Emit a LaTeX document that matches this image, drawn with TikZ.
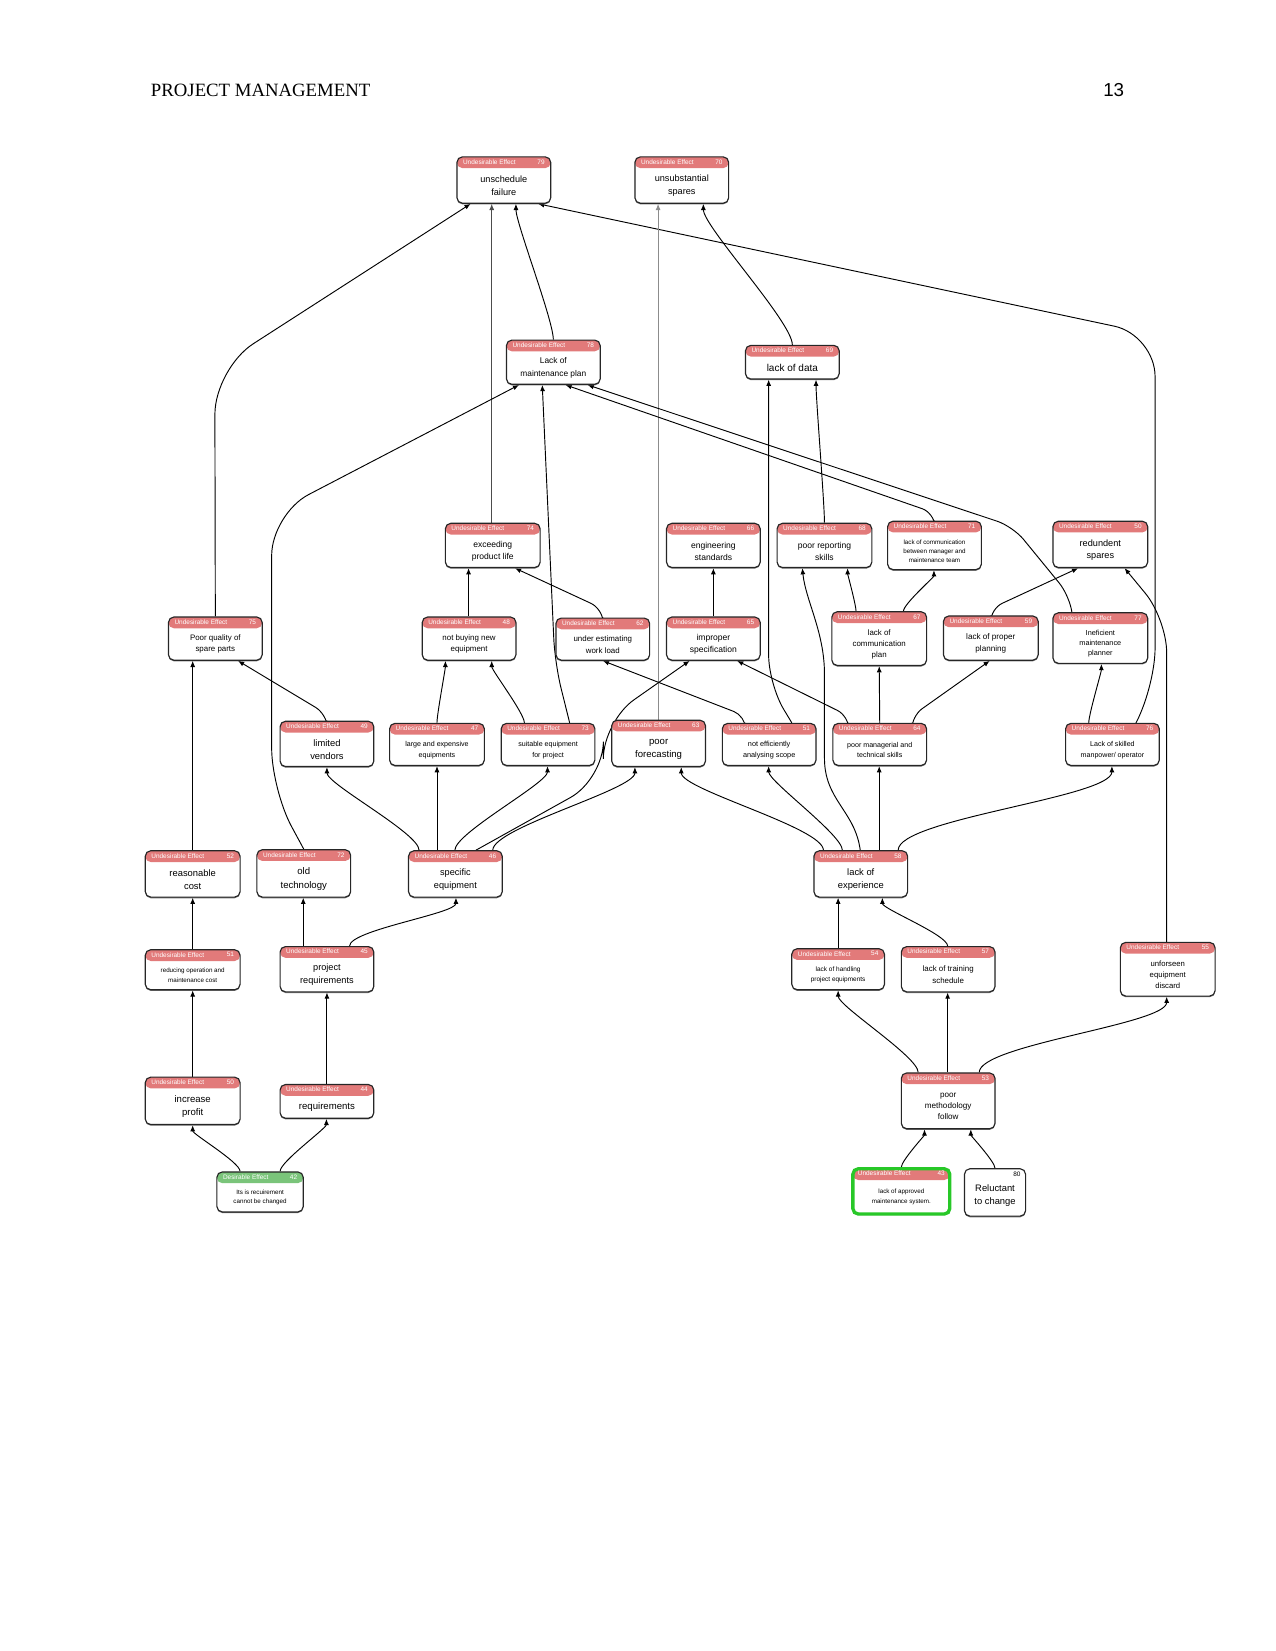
\documentclass[tikz,border=0pt]{standalone}
\usepackage{fontspec}
\setmainfont{Liberation Serif}
\setsansfont{Liberation Sans}
\usetikzlibrary{fit,arrows.meta,calc,shadows}
\definecolor{uered}{RGB}{226,122,122}
\definecolor{degreen}{RGB}{122,196,122}
\definecolor{brightgreen}{RGB}{40,200,40}
\pgfdeclarelayer{bg}
\pgfsetlayers{bg,main}
\tikzset{
  box/.style={draw=black!85, line width=0.55pt, rounded corners=2.6pt, fill=white, inner sep=0pt,
    drop shadow={shadow xshift=0pt, shadow yshift=-0.55pt, fill=black!55, opacity=1}},
  uebox/.style={box, path picture={\fill[uered] ([yshift=-5.4pt]path picture bounding box.north west) rectangle (path picture bounding box.north east);}},
  debox/.style={box, path picture={\fill[degreen] ([yshift=-5.4pt]path picture bounding box.north west) rectangle (path picture bounding box.north east);}},
  hdr/.style={font=\sffamily\fontsize{3.1}{3.5}\selectfont, text=white, inner sep=0pt},
  body/.style 2 args={font=\sffamily\fontsize{#1}{#2}\selectfont, align=center, inner sep=0pt},
  edge/.style={draw=black, line width=0.45pt, -{Latex[length=3pt,width=2.4pt]}},
  vv/.style={out=90, in=-90, looseness=0.35},
}
\newcommand{\uenode}[9]{%
  \node[uebox, fit={(#2,#3)(#4,#5)}] (#1) {};
  \node[hdr, anchor=west] at ([xshift=3pt,yshift=-2.7pt]#1.north west) {Undesirable Effect};
  \node[hdr, anchor=east] at ([xshift=-3pt,yshift=-2.7pt]#1.north east) {#6};
  \node[body={#8}{#9}] at ([yshift=-2.7pt]#1.center) {#7};
}
\begin{document}
\begin{tikzpicture}[x=0.50534pt, y=-0.50534pt]
\useasboundingbox (0,0) rectangle (1211,1568);
\node[anchor=base west, inner sep=0pt, font=\fontsize{9}{11}\selectfont] (title) at (143,92) {PROJECT MANAGEMENT};
\node[anchor=base east, inner sep=0pt, font=\sffamily\fontsize{9}{11}\selectfont] (pagenum) at (1068,92) {13};

\uenode{n79}{434}{149}{523}{193}{79}{unschedule\\failure}{4.4}{6}
\uenode{n70}{603}{149}{692}{193}{70}{unsubstantial\\spares}{4.4}{6}
\uenode{n78}{481}{323}{570}{365}{78}{Lack of\\maintenance plan}{4.0}{5.8}
\uenode{n69}{708}{328}{797}{360}{69}{lack of data}{4.8}{6}
\uenode{n74}{423}{497}{513}{539}{74}{exceeding\\product life}{4.1}{5.7}
\uenode{n66}{633}{497}{722}{539}{66}{engineering\\standards}{4.1}{5.7}
\uenode{n68}{738}{497}{828}{539}{68}{poor reporting\\skills}{4.1}{5.7}
\uenode{n71}{843}{495}{932}{541}{71}{lack of communication\\between manager and\\maintenance team}{3.0}{4.3}
\uenode{n50}{1000}{495}{1090}{539}{50}{redundent\\spares}{4.4}{6}
\uenode{n75}{160}{586}{249}{627}{75}{Poor quality of\\spare parts}{3.8}{5.4}
\uenode{n48}{401}{586}{490}{627}{48}{not buying new\\equipment}{3.8}{5.4}
\uenode{n62}{528}{587}{617}{627}{62}{under estimating\\work load}{3.8}{5.4}
\uenode{n65}{633}{586}{722}{627}{65}{improper\\specification}{4.1}{5.6}
\uenode{n67}{790}{581}{880}{632}{67}{lack of\\communication\\plan}{3.8}{5.4}
\uenode{n59}{896}{585}{986}{627}{59}{lack of proper\\planning}{3.9}{5.6}
\uenode{n77}{1000}{582}{1090}{630}{77}{Ineficient\\maintenance\\planner}{3.5}{4.9}
\uenode{n49}{266}{685}{355}{728}{49}{limited\\vendors}{4.5}{6.2}
\uenode{n47}{370}{687}{460}{727}{47}{large and expensive\\equipments}{3.4}{5}
\uenode{n73}{476}{687}{565}{727}{73}{suitable equipment\\for project}{3.4}{5}
\uenode{n63}{581}{684}{670}{728}{63}{poor\\forecasting}{4.6}{6.2}
\uenode{n51}{686}{687}{775}{727}{51}{not efficiently\\analysing scope}{3.5}{5}
\uenode{n64}{791}{687}{880}{727}{64}{poor managerial and\\technical skills}{3.4}{5}
\uenode{n76}{1012}{687}{1101}{727}{76}{Lack of skilled\\manpower/ operator}{3.4}{5}
\uenode{n52}{138}{808}{228}{852}{52}{reasonable\\cost}{4.5}{6.2}
\uenode{n72}{244}{807}{333}{852}{72}{old\\technology}{4.6}{6.4}
\uenode{n46}{388}{808}{477}{852}{46}{specific\\equipment}{4.4}{6.2}
\uenode{n58}{773}{808}{862}{852}{58}{lack of\\experience}{4.5}{6.2}
\uenode{n51b}{138}{902}{228}{940}{51}{reducing operation and\\maintenance cost}{3.0}{4.5}
\uenode{n45}{266}{899}{355}{942}{45}{project\\requirements}{4.4}{6}
\uenode{n54}{752}{901}{840}{940}{54}{lack of handling\\project equipments}{3.1}{4.6}
\uenode{n57}{856}{899}{945}{942}{57}{lack of training\\schedule}{3.8}{5.5}
\uenode{n55}{1064}{895}{1154}{946}{55}{unforseen\\equipment\\discard}{3.7}{5.2}
\uenode{n50b}{138}{1023}{228}{1068}{50}{increase\\profit}{4.6}{6.3}
\uenode{n44}{266}{1030}{355}{1062}{44}{requirements}{4.6}{6}
\uenode{n53}{856}{1019}{945}{1072}{53}{poor\\methodology\\follow}{3.9}{5.4}

% desirable effect 42
\node[debox, fit={(206,1113)(288,1151)}] (n42) {};
\node[hdr, anchor=west] at ([xshift=3pt,yshift=-2.7pt]n42.north west) {Desirable Effect};
\node[hdr, anchor=east] at ([xshift=-3pt,yshift=-2.7pt]n42.north east) {42};
\node[body={3.0}{4.5}] at ([yshift=-2.7pt]n42.center) {Its is recuirement\\cannot be changed};
% 43 with green frame
\node[uebox, draw=brightgreen, line width=1.6pt, fit={(810,1110)(902,1153)}] (n43) {};
\node[hdr, anchor=west] at ([xshift=3pt,yshift=-2.9pt]n43.north west) {Undesirable Effect};
\node[hdr, anchor=east] at ([xshift=-3pt,yshift=-2.9pt]n43.north east) {43};
\node[body={3.0}{4.5}] at ([yshift=-2.7pt]n43.center) {lack of approved\\maintenance system.};
% 80 plain
\node[box, fit={(916,1110)(974,1155)}] (n80) {};
\node[hdr, text=black, anchor=east] at ([xshift=-2.5pt,yshift=-2.7pt]n80.north east) {80};
\node[body={4.5}{6}] at ([yshift=-1.5pt]n80.center) {Reluctant\\to change};

% connectors
\begin{pgfonlayer}{bg}
\draw[edge, rounded corners=22pt] (n75.north) -- (204,350) -- (n79.south -| 447,0);
\draw[edge, draw=black!70] (n74.north -| 467,0) -- (n79.south -| 467,0);
\draw[edge] (n78.north) to[vv] (n79.south -| 490,0);
\draw[edge, rounded corners=20pt] (n76.north -| 1079,0) -- (1097,655) -- (1097,318) -- (n79.south -| 511,0);
\draw[edge, draw=black!45] (n63.north -| 625,0) -- (n70.south -| 625,0);
\draw[edge] (n69.north) to[vv] (n70.south -| 668,0);
\draw[edge, rounded corners=20pt] (n72.north) -- (258,750) -- (258,488) -- (n78.south -| 493,0);
\draw[edge, rounded corners=12pt] (n73.north -| 541,0) -- (527,630) -- (n78.south -| 515,0);
\draw[edge, rounded corners=6pt] (n71.north) -- (887,487) -- (n78.south -| 537,0);
\draw[edge, rounded corners=8pt] (n77.north -| 1018,0) -- (1016,566) -- (962,500) -- (n78.south -| 558,0);
\draw[edge, rounded corners=14pt] (n51.north -| 752,0) -- (730,650) -- (n69.south -| 730,0);
\draw[edge] (n68.north) to[vv] (n69.south -| 775,0);
\draw[edge] (n48.north -| 445,0) -- (n74.south -| 445,0);
\draw[edge, rounded corners=6pt] (n62.north) -- (572,578) -- (n74.south -| 489,0);
\draw[edge] (n65.north) -- (n66.south);
\draw[edge] (n58.north -| 817,0) .. controls (812,770) and (783,760) .. (783,720) -- (783,640) .. controls (783,600) and (765,570) .. (n68.south -| 762,0);
\draw[edge] (n67.north -| 813,0) to[vv] (n68.south -| 805,0);
\draw[edge] (n67.north -| 858,0) to[vv] (n71.south -| 887,0);
\draw[edge, rounded corners=6pt] (n59.north) -- (941,578) -- (n50.south -| 1024,0);
\draw[edge, rounded corners=16pt] (n55.north -| 1108,0) -- (1108,588) -- (n50.south -| 1068,0);
\draw[edge] (n52.north -| 183,0) -- (n75.south -| 183,0);
\draw[edge, rounded corners=6pt] (n49.north) -- (310,678) -- (n75.south -| 226,0);
\draw[edge] (n47.north) to[vv] (n48.south -| 423,0);
\draw[edge] (n73.north -| 498,0) to[vv] (n48.south -| 467,0);
\draw[edge, rounded corners=18pt] (n46.north -| 452,0) -- (573,740) -- (573,685) -- (n65.south -| 655,0);
\draw[edge, rounded corners=6pt] (n64.north -| 806,0) -- (806,680) -- (n65.south -| 700,0);
\draw[edge, rounded corners=6pt] (n51.north -| 708,0) -- (708,680) -- (n62.south);
\draw[edge] (n64.north) -- (n67.south);
\draw[edge, rounded corners=6pt] (n64.north -| 866,0) -- (866,680) -- (n59.south -| 940,0);
\draw[edge] (n76.north -| 1034,0) to[vv] (n77.south -| 1046,0);
\draw[edge] (n46.north -| 398,0) to[vv] (n49.south);
\draw[edge] (n46.north -| 415,0) -- (n47.south -| 415,0);
\draw[edge] (n46.north -| 432,0) to[vv] (n73.south -| 520,0);
\draw[edge] (n46.north -| 468,0) to[vv] (n63.south -| 603,0);
\draw[edge] (n58.north -| 782,0) to[vv] (n63.south -| 647,0);
\draw[edge] (n58.north -| 800,0) to[vv] (n51.south -| 730,0);
\draw[edge] (n58.north -| 835,0) -- (n64.south -| 835,0);
\draw[edge] (n58.north -| 853,0) to[vv] (n76.south -| 1056,0);
\draw[edge] (n51b.north) -- (n52.south -| 183,0);
\draw[edge] (n45.north -| 288,0) -- (n72.south -| 288,0);
\draw[edge] (n45.north -| 332,0) to[vv] (n46.south -| 433,0);
\draw[edge] (n54.north -| 796,0) -- (n58.south -| 796,0);
\draw[edge] (n57.north -| 900,0) to[vv] (n58.south -| 838,0);
\draw[edge] (n50b.north) -- (n51b.south);
\draw[edge] (n44.north) -- (n45.south);
\draw[edge] (n53.north -| 872,0) to[vv] (n54.south -| 796,0);
\draw[edge] (n53.north -| 900,0) -- (n57.south -| 900,0);
\draw[edge] (n53.north -| 930,0) to[vv] (n55.south -| 1108,0);
\draw[edge] (n42.north -| 228,0) to[vv] (n50b.south -| 183,0);
\draw[edge] (n42.north -| 266,0) to[vv] (n44.south -| 310,0);
\draw[edge] (n43.north -| 856,0) to[vv] (n53.south -| 878,0);
\draw[edge] (n80.north -| 945,0) to[vv] (n53.south -| 922,0);
\end{pgfonlayer}
\end{tikzpicture}
\end{document}
